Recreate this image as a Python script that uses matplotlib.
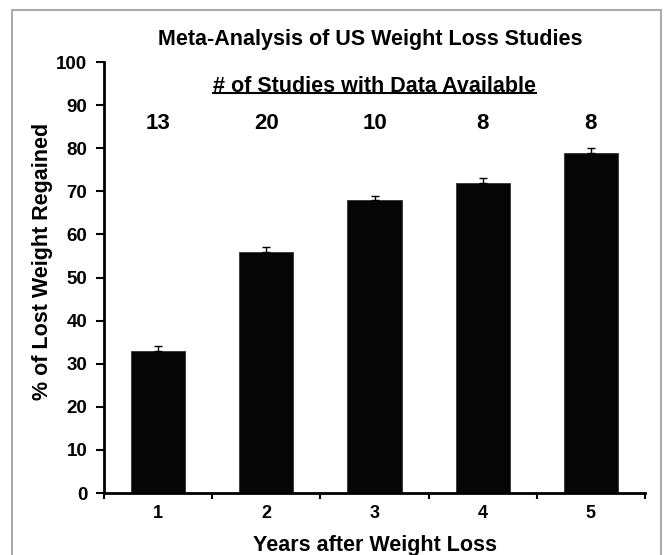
import matplotlib
matplotlib.use("Agg")
import matplotlib.pyplot as plt
from matplotlib.lines import Line2D
import numpy as np

# data
years = [1, 2, 3, 4, 5]
regained = [33, 56, 68, 72, 79]
errors = [1.0, 1.0, 1.0, 1.0, 1.0]
n_studies = [13, 20, 10, 8, 8]

plt.rcParams['font.family'] = ['Liberation Sans', 'DejaVu Sans']
plt.rcParams['font.weight'] = 'bold'

fig = plt.figure(figsize=(6.65, 5.55), dpi=100)
ax = fig.add_axes([104 / 665, (555 - 493) / 555, (645 - 104) / 665, (493 - 62) / 555])

ax.bar(years, regained, width=0.5, color='#050505', edgecolor='#333333', linewidth=0.6,
       yerr=[np.zeros(len(errors)), errors], error_kw=dict(ecolor='black', elinewidth=1, capsize=3, capthick=1))

ax.set_xlim(0.5, 5.5)
ax.set_ylim(0, 100)
ax.set_yticks(range(0, 101, 10))
ax.set_xticks(years)
ax.set_xticklabels([str(y) for y in years], fontsize=13, fontweight='bold')
ax.set_yticklabels([str(v) for v in range(0, 101, 10)], fontsize=13.5, fontweight='bold')
ax.tick_params(axis='y', direction='out', length=6, width=1.5, pad=6)
ax.tick_params(axis='x', which='major', length=0, pad=9)
ax.set_xticks(np.arange(0.5, 5.6, 1), minor=True)
ax.tick_params(axis='x', which='minor', direction='out', length=4, width=1.5)
for s in ['top', 'right']:
    ax.spines[s].set_visible(False)
ax.spines['left'].set_linewidth(2)
ax.spines['bottom'].set_linewidth(2)

ax.set_ylabel('% of Lost Weight Regained', fontsize=15.5, fontweight='bold')
ax.yaxis.set_label_coords(-(104 - 43) / 541, (493 - 261) / 431)
ax.set_xlabel('Years after Weight Loss', fontsize=15.5, fontweight='bold')
ax.xaxis.set_label_coords((375 - 104) / 541, -(545 - 493) / 431)
ax.xaxis.label.set_va('center')
ax.yaxis.label.set_va('center')

# study counts above the bars
for x, n in zip(years, n_studies):
    ax.text(x, 85.8, str(n), ha='center', va='center', fontsize=16, fontweight='bold')

sub = ax.text(3, 94.2, '# of Studies with Data Available', ha='center', va='center',
              fontsize=15.5, fontweight='bold')

fig.text(370 / 665, 1 - 40 / 555, 'Meta-Analysis of US Weight Loss Studies',
         ha='center', va='center', fontsize=15.5, fontweight='bold')

# underline the subheading using its drawn extent
fig.canvas.draw()
bb = sub.get_window_extent().transformed(fig.transFigure.inverted())
uy = 1 - 93 / 555
fig.add_artist(Line2D([bb.x0, bb.x1], [uy, uy], color='black', lw=1.5, transform=fig.transFigure))

# grey frame round the picture
fx0, fx1, fy1 = 12 / 665, 661 / 665, 1 - 10 / 555
fig.add_artist(Line2D([fx0, fx0, fx1, fx1], [0, fy1, fy1, 0], color='#aaaaaa', lw=1.5,
                      transform=fig.transFigure))

fig.savefig('out.png', dpi=100)
